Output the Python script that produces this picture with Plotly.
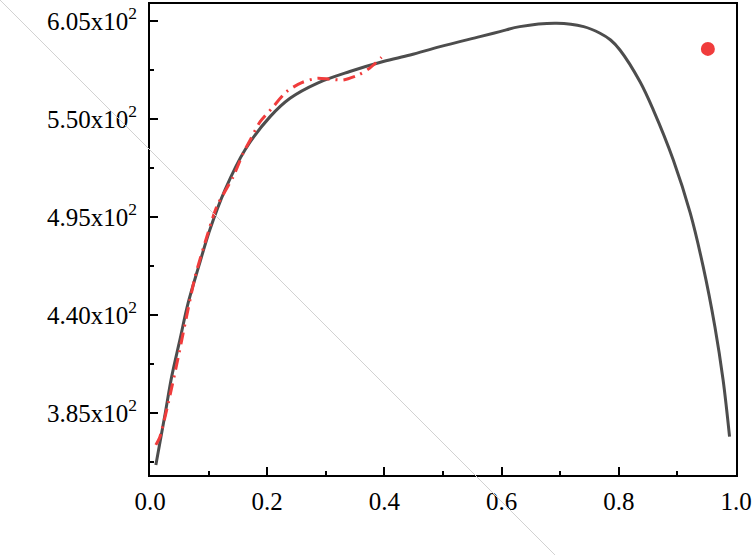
import plotly.graph_objects as go

# Данные
gray_x = [0.010, 0.026, 0.037, 0.051, 0.065, 0.083, 0.102, 0.128, 0.162, 0.205,
          0.239, 0.285, 0.341, 0.398, 0.444, 0.495, 0.563, 0.597, 0.631, 0.694,
          0.740, 0.768, 0.786, 0.802, 0.836, 0.859, 0.893, 0.922, 0.944, 0.964, 0.978, 0.989]
gray_y = [355.8, 384.8, 405.4, 426.0, 446.6, 467.1, 487.7, 510.2, 532.6, 551.3,
          561.6, 570.0, 576.6, 582.2, 585.9, 590.6, 596.2, 599.0, 601.8, 603.7,
          601.8, 598.1, 594.3, 588.7, 571.0, 555.0, 527.0, 497.1, 467.1, 433.4, 403.5, 371.7]

red_x = [0.010, 0.017, 0.031, 0.046, 0.060, 0.077, 0.097, 0.114, 0.142, 0.159,
         0.171, 0.188, 0.208, 0.233, 0.259, 0.285, 0.307, 0.330, 0.356, 0.375, 0.395]
red_y = [367.1, 371.7, 390.4, 412.9, 435.3, 461.5, 483.9, 500.8, 517.6, 530.8,
         538.2, 548.5, 556.0, 565.3, 570.4, 572.8, 572.3, 571.9, 574.7, 578.5, 584.6]

point_x = [0.952]
point_y = [589.3]

y_tickvals = [385, 440, 495, 550, 605]
y_ticktext = ['3.85x10<sup>2</sup>', '4.40x10<sup>2</sup>', '4.95x10<sup>2</sup>',
              '5.50x10<sup>2</sup>', '6.05x10<sup>2</sup>']

GRAY = '#4D4D4D'
RED = '#F03C3C'

fig = go.Figure()

# основная кривая
fig.add_trace(go.Scatter(
    x=gray_x, y=gray_y, mode='lines',
    line=dict(color=GRAY, width=3, shape='spline', smoothing=1.0),
    showlegend=False
))

# штрихпунктир
fig.add_trace(go.Scatter(
    x=red_x, y=red_y, mode='lines',
    line=dict(color=RED, width=3, dash='12px,6px,2px,6px', shape='spline', smoothing=0.7),
    showlegend=False
))

# одиночная точка
fig.add_trace(go.Scatter(
    x=point_x, y=point_y, mode='markers',
    marker=dict(color=RED, size=14),
    showlegend=False
))

# тонкая диагональ через всю картинку
L, R, T, B = 150, 17, 4, 80
W, H = 753, 555
pw, ph = W - L - R, H - T - B
fig.add_shape(
    type='line', xref='paper', yref='paper',
    x0=-L / pw, y0=(H - B) / ph,
    x1=(555 - L) / pw, y1=(H - B - 555) / ph,
    line=dict(color='#D2D2D2', width=1)
)

fig.update_layout(
    width=W, height=H,
    margin=dict(l=L, r=R, t=T, b=B),
    plot_bgcolor='white',
    paper_bgcolor='white',
    font=dict(family='Liberation Serif', size=25, color='black'),
    showlegend=False
)

fig.update_xaxes(
    range=[0, 1.0], tickmode='linear', tick0=0, dtick=0.2,
    tickformat='.1f', ticklabelstandoff=3,
    ticks='inside', ticklen=8, tickwidth=2, tickcolor='black',
    minor=dict(ticks='inside', ticklen=4, tickwidth=2, tickcolor='black',
               tickmode='linear', tick0=0.1, dtick=0.2),
    showline=True, linewidth=2, linecolor='black', mirror=True,
    showgrid=False, zeroline=False, automargin=False
)

fig.update_yaxes(
    range=[350.2, 614.5], tickmode='array',
    tickvals=y_tickvals, ticktext=y_ticktext, ticklabelstandoff=6,
    ticks='inside', ticklen=8, tickwidth=2, tickcolor='black',
    minor=dict(ticks='inside', ticklen=4, tickwidth=2, tickcolor='black',
               tickmode='linear', tick0=357.5, dtick=55),
    showline=True, linewidth=2, linecolor='black', mirror=True,
    showgrid=False, zeroline=False, automargin=False
)

# убираем отступ body, чтобы график стоял в углу страницы
fig.write_html("out.html", config={'displayModeBar': False},
               post_script="document.body.style.margin='0';")
